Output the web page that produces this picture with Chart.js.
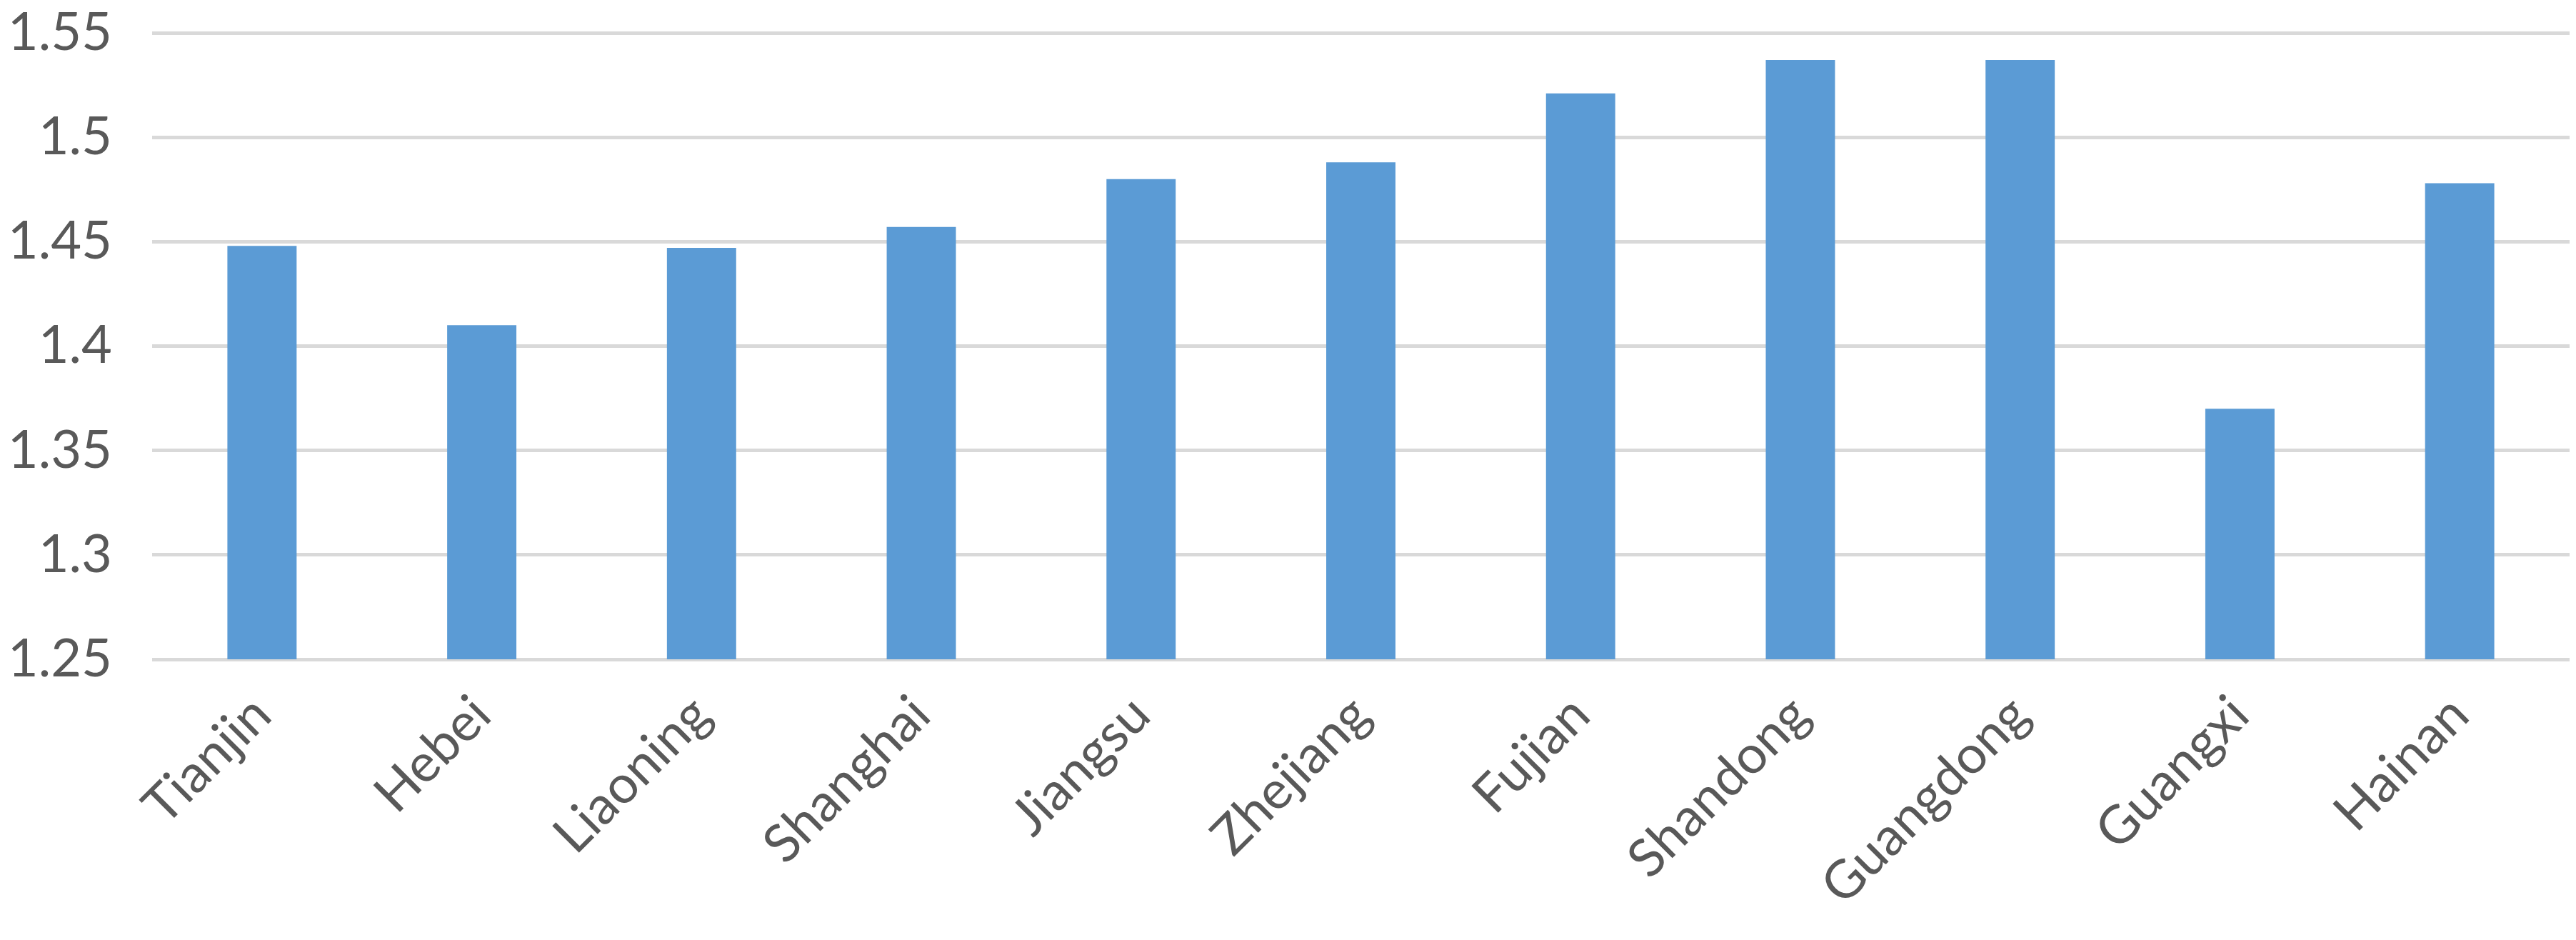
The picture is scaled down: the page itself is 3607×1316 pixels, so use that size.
<!DOCTYPE html>
<html>
<head>
<meta charset="utf-8">
<script src="https://cdn.jsdelivr.net/npm/chart.js@4/dist/chart.umd.min.js"></script>
<style>
  html, body { margin: 0; padding: 0; background: #ffffff; }
  #bar-canvas { display: block; }
</style>
</head>
<body>
<canvas id="bar-canvas" width="3607" height="1316"></canvas>
<script>
// provinces on the x axis
const provinces = ['Tianjin', 'Hebei', 'Liaoning', 'Shanghai', 'Jiangsu', 'Zhejiang',
    'Fujian', 'Shandong', 'Guangdong', 'Guangxi', 'Hainan'];

// bar heights
const values = [1.448, 1.410, 1.447, 1.457, 1.480, 1.488, 1.521, 1.537, 1.537, 1.370, 1.478];

// y axis range
const yMin = 1.25;
const yMax = 1.55;
const yStep = 0.05;

const ctx = document.getElementById('bar-canvas').getContext('2d');
const labelFont = { family: 'Lato', size: 74 };

const myChart = new Chart(ctx, {
    type: 'bar',
    data: {
        labels: provinces,
        datasets: [{
            data: values,
            backgroundColor: '#5b9bd5',
            borderWidth: 0,
            categoryPercentage: 1,
            barPercentage: 0.315
        }]
    },
    options: {
        responsive: false,
        animation: false,
        devicePixelRatio: 1,
        layout: {
            padding: { top: 46, right: 9, left: 0, bottom: 0 }
        },
        plugins: {
            legend: { display: false },
            tooltip: { enabled: false }
        },
        scales: {
            x: {
                grid: { display: false, drawTicks: false },
                border: { display: false },
                ticks: {
                    color: '#595959',
                    font: labelFont,
                    minRotation: 45,
                    maxRotation: 45,
                    padding: 34
                },
                afterFit: scale => {
                    scale.height = 393;
                    scale.paddingLeft = 0;
                    scale.paddingRight = 0;
                }
            },
            y: {
                min: yMin,
                max: yMax,
                border: { display: false },
                grid: { color: '#d9d9d9', lineWidth: 5, drawTicks: false },
                ticks: {
                    stepSize: yStep,
                    color: '#595959',
                    font: labelFont,
                    padding: 56,
                    // excel style labels: 1.3 not 1.30
                    callback: value => String(parseFloat(Number(value).toFixed(2)))
                },
                afterFit: scale => {
                    scale.width = 213;
                    scale.paddingTop = 0;
                    scale.paddingBottom = 0;
                }
            }
        }
    }
});
</script>
</body>
</html>
